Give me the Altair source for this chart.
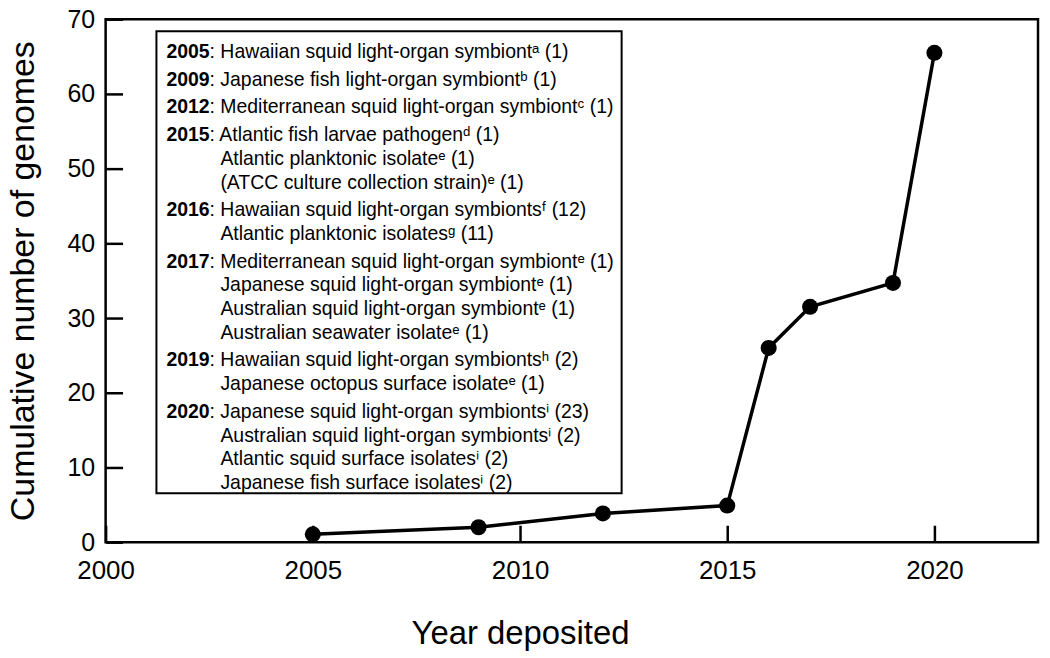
import altair as alt
import pandas as pd

# ---- data ----
years = [2005, 2009, 2012, 2015, 2016, 2017, 2019, 2020]
cumulative = [1.05, 2.0, 3.85, 4.9, 26.0, 31.5, 34.7, 65.5]

x_ticks = [2000, 2005, 2010, 2015, 2020]
y_ticks = [0, 10, 20, 30, 40, 50, 60, 70]

group_years = ["2005", "2009", "2012", "2015", "2016", "2017", "2019", "2020"]
group_lines = [
    ["Hawaiian squid light-organ symbiontᵃ (1)"],
    ["Japanese fish light-organ symbiontᵇ (1)"],
    ["Mediterranean squid light-organ symbiontᶜ (1)"],
    ["Atlantic fish larvae pathogenᵈ (1)",
     "Atlantic planktonic isolateᵉ (1)",
     "(ATCC culture collection strain)ᵉ (1)"],
    ["Hawaiian squid light-organ symbiontsᶠ (12)",
     "Atlantic planktonic isolatesᵍ (11)"],
    ["Mediterranean squid light-organ symbiontᵉ (1)",
     "Japanese squid light-organ symbiontᵉ (1)",
     "Australian squid light-organ symbiontᵉ (1)",
     "Australian seawater isolateᵉ (1)"],
    ["Hawaiian squid light-organ symbiontsʰ (2)",
     "Japanese octopus surface isolateᵉ (1)"],
    ["Japanese squid light-organ symbiontsⁱ (23)",
     "Australian squid light-organ symbiontsⁱ (2)",
     "Atlantic squid surface isolatesⁱ (2)",
     "Japanese fish surface isolatesⁱ (2)"],
]

# ---- layout ----
W, H = 936, 525
X0, X1 = 2000, 2022.5
Y0, Y1 = 0, 70
FONT = "Liberation Sans, Arial, Helvetica, sans-serif"
FS = 19.5
TICK_LEN = 17

def to_x(px):
    return X0 + px * (X1 - X0) / W

def to_y(py):
    return Y1 - py * (Y1 - Y0) / H

x_year = 61
bold_w = 4 * 0.556 * FS
colon_w = 0.556 * FS
first_y = 33
in_step = 23.8
grp_step = 27.8

bold_rows, text_rows = [], []
yy = first_y
for gi, (yr, lines) in enumerate(zip(group_years, group_lines)):
    if gi > 0:
        yy += grp_step
    for li, line in enumerate(lines):
        if li > 0:
            yy += in_step
        if li == 0:
            bold_rows.append(dict(xd=to_x(x_year), yd=to_y(yy), text=yr))
            text_rows.append(dict(xd=to_x(x_year + bold_w), yd=to_y(yy), text=": " + line))
        else:
            text_rows.append(dict(xd=to_x(x_year + bold_w + colon_w), yd=to_y(yy), text=line))

df = pd.DataFrame({"year": years, "count": cumulative})
bold_df = pd.DataFrame(bold_rows)
text_df = pd.DataFrame(text_rows)

xs = alt.Scale(domain=[X0, X1], nice=False, zero=False)
ys = alt.Scale(domain=[Y0, Y1], nice=False, zero=False)

TICK_COLOR = "black"
TICK_W = 2.5

# axes pulled inside the frame by the tick length so that ticks point inward
xaxis = alt.Axis(values=x_ticks, format="d", title="Year deposited", domain=False, grid=False,
                 offset=-TICK_LEN, ticks=True, tickSize=TICK_LEN, tickWidth=TICK_W, tickColor=TICK_COLOR,
                 labelFont=FONT, labelFontSize=26, labelColor="black",
                 labelPadding=36, labelBaseline="alphabetic", labelFlush=False, labelOverlap=False,
                 titleFont=FONT, titleFontSize=33, titleFontWeight="normal", titleColor="black",
                 titleX=416, titleY=102 + TICK_LEN, titleBaseline="alphabetic", titleAlign="center")
yaxis = alt.Axis(values=y_ticks, title="Cumulative number of genomes", domain=False, grid=False,
                 offset=-TICK_LEN, ticks=True, tickSize=TICK_LEN, tickWidth=TICK_W, tickColor=TICK_COLOR,
                 labelFont=FONT, labelFontSize=25, labelColor="black",
                 labelPadding=11, labelFlush=False, labelOverlap=False,
                 titleFont=FONT, titleFontSize=34, titleFontWeight="normal", titleColor="black",
                 titleX=-72 - TICK_LEN, titleY=H / 2, titleAngle=-90, titleBaseline="alphabetic",
                 titleAlign="center")

box = alt.Chart(pd.DataFrame({"bx": [0]})).mark_rect(
    fill="white", stroke="black", strokeWidth=2
).encode(x=alt.value(51), x2=alt.value(518), y=alt.value(12), y2=alt.value(476))

bold_text = alt.Chart(bold_df).mark_text(
    align="left", baseline="middle", font=FONT, fontSize=FS, fontWeight="bold", color="black"
).encode(x=alt.X("xd:Q", scale=xs, axis=xaxis), y=alt.Y("yd:Q", scale=ys, axis=yaxis), text="text:N")

reg_text = alt.Chart(text_df).mark_text(
    align="left", baseline="middle", font=FONT, fontSize=FS, color="black"
).encode(x=alt.X("xd:Q", scale=xs, axis=xaxis), y=alt.Y("yd:Q", scale=ys, axis=yaxis), text="text:N")

line = alt.Chart(df).mark_line(color="black", strokeWidth=3.5).encode(
    x=alt.X("year:Q", scale=xs, axis=xaxis), y=alt.Y("count:Q", scale=ys, axis=yaxis))
points = alt.Chart(df).mark_circle(color="black", opacity=1, size=260).encode(
    x=alt.X("year:Q", scale=xs, axis=xaxis), y=alt.Y("count:Q", scale=ys, axis=yaxis))

chart = alt.layer(box, bold_text, reg_text, line, points).properties(
    width=W, height=H,
    autosize=alt.AutoSizeParams(type="none"),
    padding={"left": 98, "top": 10, "right": 4, "bottom": 110},
    background="white",
).configure_view(stroke="black", strokeWidth=2.5)

chart.save("out.html", embed_options={"renderer": "svg", "actions": False})
